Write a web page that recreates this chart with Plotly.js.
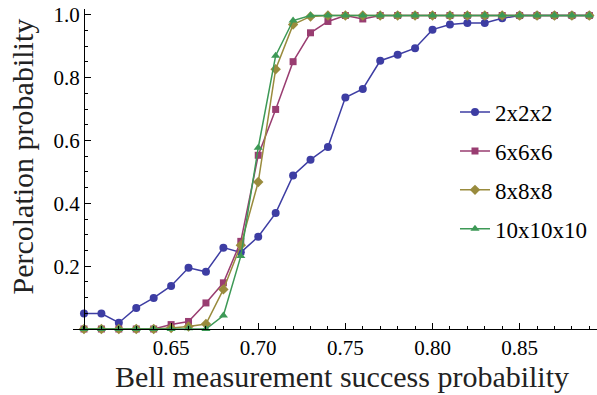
<!DOCTYPE html>
<html>
<head>
<meta charset="utf-8">
<script src="https://cdn.plot.ly/plotly-3.0.1.min.js"></script>
<style>
html,body{margin:0;padding:0;background:#fff;}
#chart{width:597px;height:395px;}
</style>
</head>
<body>
<div id="chart"></div>
<script>
// Bell measurement success probability (x) and percolation probability for each lattice size
const xValues = [0.60,0.61,0.62,0.63,0.64,0.65,0.66,0.67,0.68,0.69,0.70,0.71,0.72,0.73,0.74,0.75,0.76,0.77,0.78,0.79,0.80,0.81,0.82,0.83,0.84,0.85,0.86,0.87,0.88,0.89];
const p2x2x2 = [0.049,0.049,0.020,0.067,0.099,0.137,0.195,0.182,0.259,0.244,0.294,0.369,0.489,0.539,0.579,0.737,0.764,0.854,0.873,0.894,0.953,0.969,0.974,0.974,0.989,0.998,0.998,0.998,0.998,0.998];
const p6x6x6 = [0,0,0,0,0,0.014,0.024,0.083,0.147,0.279,0.553,0.699,0.851,0.943,0.979,0.998,0.987,0.998,0.998,0.998,0.998,0.998,0.998,0.998,0.998,0.998,0.998,0.998,0.998,0.998];
const p8x8x8 = [0,0,0,0,0,0.003,0.008,0.016,0.126,0.267,0.468,0.827,0.969,0.995,0.998,0.998,0.998,0.998,0.998,0.998,0.998,0.998,0.998,0.998,0.998,0.998,0.998,0.998,0.998,0.998];
const p10x10x10 = [0,0,0,0,0,0,0.002,0,0.043,0.232,0.577,0.870,0.982,0.998,0.998,0.998,0.998,0.998,0.998,0.998,0.998,0.998,0.998,0.998,0.998,0.998,0.998,0.998,0.998,0.998];
const seriesNames = ["2x2x2","6x6x6","8x8x8","10x10x10"];
const xTickVals = [0.65,0.70,0.75,0.80,0.85];
const yTickVals = [0.2,0.4,0.6,0.8,1.0];

const colors = ["#3D3DA3","#993D71","#998B3D","#3D9956"];
const symbols = ["circle","square","diamond","triangle-up"];
const sizes = [8,7,8,8];
const ys = [p2x2x2,p6x6x6,p8x8x8,p10x10x10];

const serif = "Liberation Serif";

const traces = ys.map((y,i)=>({
  type:"scatter", mode:"lines+markers", x:xValues, y:y, name:seriesNames[i],
  legendgroup:"g"+i, cliponaxis:false,
  line:{color:colors[i], width:1.5},
  marker:{color:colors[i], symbol:symbols[i], size:sizes[i], line:{width:0}}
}));

const layout = {
  width:597, height:395,
  margin:{l:73, r:0, t:9, b:66},
  paper_bgcolor:"#fff", plot_bgcolor:"#fff",
  font:{family:serif, size:21, color:"#000"},
  showlegend:true,
  legend:{x:0.729, y:0.745, xanchor:"left", yanchor:"top", traceorder:"grouped", tracegroupgap:6,
    font:{family:serif, size:23, color:"#000"}, bgcolor:"rgba(0,0,0,0)"},
  xaxis:{range:[0.5937,0.8944], showgrid:false, zeroline:false, showline:true, linecolor:"#000", linewidth:1,
    tickmode:"array", tickvals:xTickVals, tickformat:".2f", ticks:"inside", ticklen:6, tickcolor:"#000",
    minor:{tick0:0.60, dtick:0.01, ticks:"inside", ticklen:3.5, tickcolor:"#000"},
    tickfont:{family:serif, size:21, color:"#000"}},
  yaxis:{range:[0,1.0187], showgrid:false, zeroline:false, showline:true, linecolor:"#000", linewidth:1,
    anchor:"free", position:0.02095,
    tickmode:"array", tickvals:yTickVals, tickformat:".1f", ticks:"inside", ticklen:6, tickcolor:"#000",
    minor:{tick0:0, dtick:0.05, ticks:"inside", ticklen:3.5, tickcolor:"#000"},
    tickfont:{family:serif, size:21, color:"#000"}},
  annotations:[
    {text:"Bell measurement success probability", xref:"paper", yref:"paper", x:0.514, y:-0.147,
     xanchor:"center", yanchor:"middle", showarrow:false, font:{family:serif, size:30, color:"#222"}},
    {text:"Percolation probability", xref:"paper", yref:"paper", x:-0.0954, y:0.539, textangle:-90,
     xanchor:"center", yanchor:"middle", showarrow:false, font:{family:serif, size:30, color:"#222"}}
  ]
};

Plotly.newPlot("chart", traces, layout, {displayModeBar:false, staticPlot:true});
</script>
</body>
</html>
